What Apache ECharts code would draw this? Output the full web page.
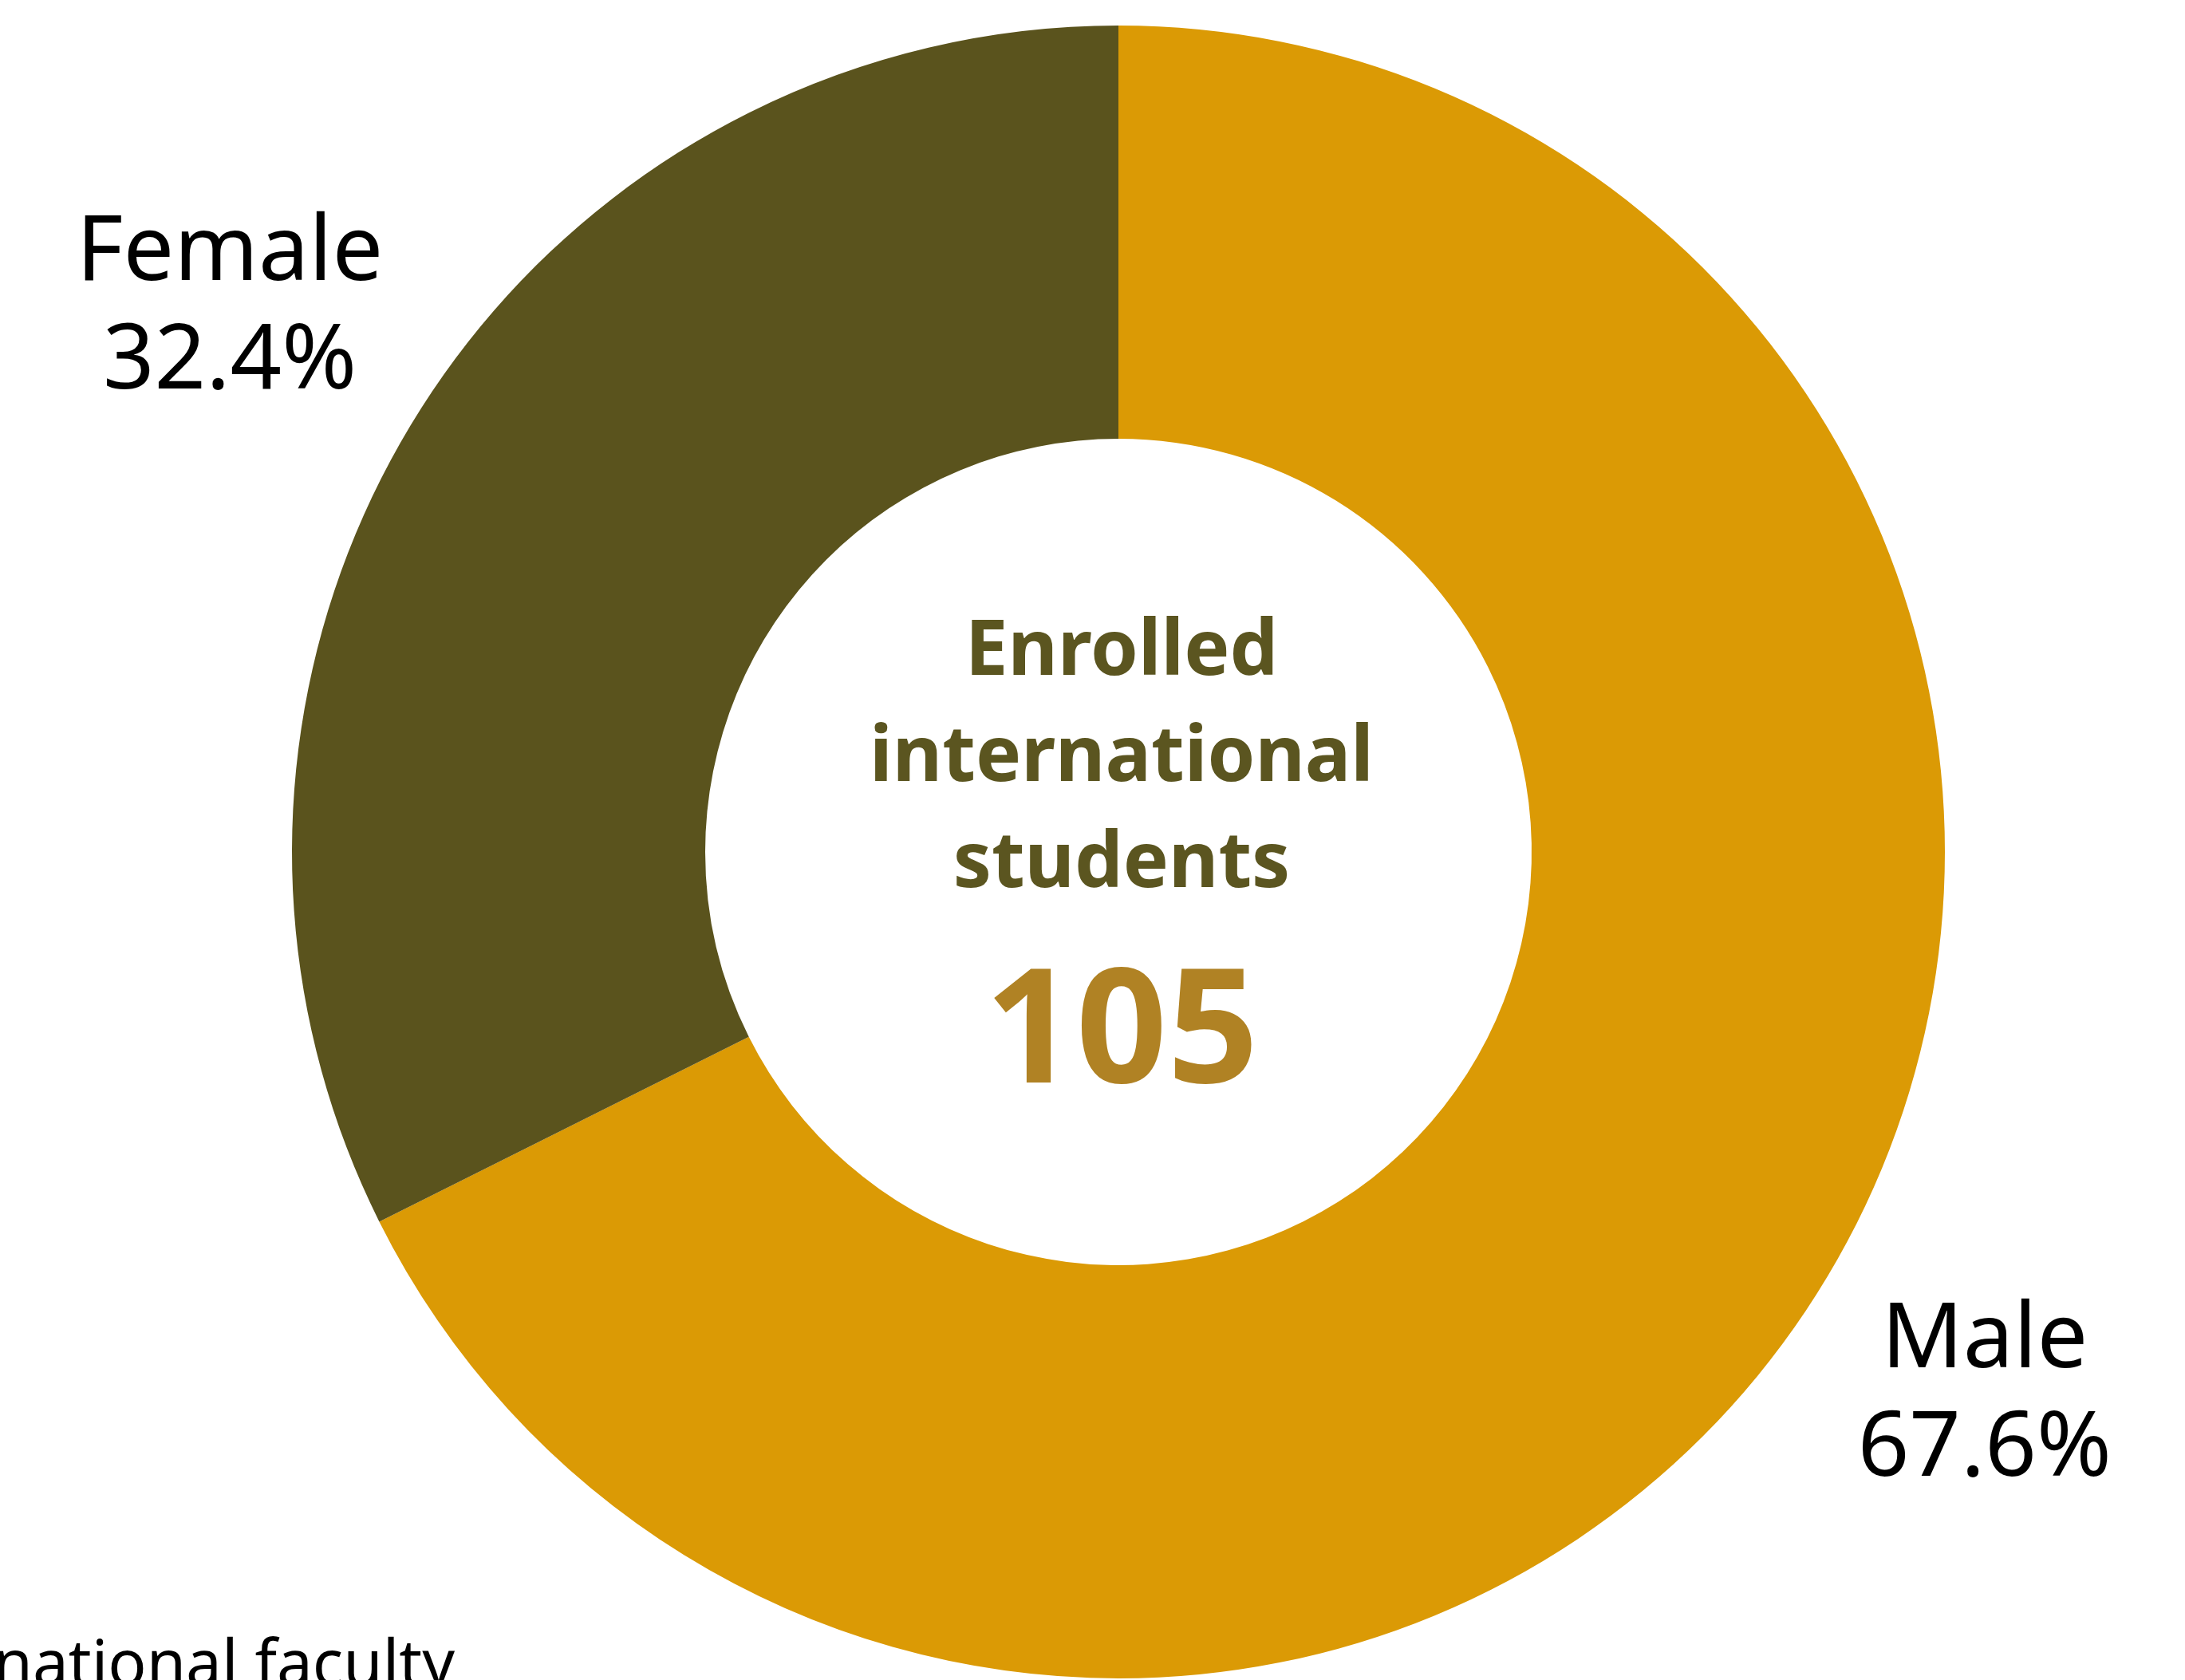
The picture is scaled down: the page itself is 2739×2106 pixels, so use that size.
<!DOCTYPE html>
<html>
<head>
<meta charset="utf-8">
<script src="https://cdn.jsdelivr.net/npm/echarts@6/dist/echarts.min.js"></script>
<style>
html,body{margin:0;padding:0;background:#fff;}
#chart{width:2739px;height:2106px;}
</style>
</head>
<body>
<div id="chart"></div>
<script>
// ---- data ----
const categories = ['Male', 'Female'];
const values = [71, 34];
const sliceColors = ['#DB9A05', '#5A531D'];
const centerLines = ['Enrolled', 'international', 'students'];
const centerTotal = '105';
const footnote = 'International faculty';

// ---- layout ----
const CX = 1402, CY = 1068, R_OUT = 1036, R_IN = 518;
const labelFactor = [1.232, 1.264];
const labelDy = [11, 7];

const total = values.reduce((a, b) => a + b, 0);
function midAngle(i) {
  let before = 0;
  for (let k = 0; k < i; k++) before += values[k];
  const frac = (before + values[i] / 2) / total;
  return (90 - frac * 360) * Math.PI / 180;
}

const chart = echarts.init(document.getElementById('chart'), null, {renderer: 'canvas'});

const centerGraphics = centerLines.map((t, i) => ({
  type: 'text',
  x: CX + 4,
  y: CY - 249 + i * 133,
  style: {
    text: t,
    fill: '#5B5520',
    font: 'bold 96px "Noto Sans"',
    textAlign: 'center',
    textVerticalAlign: 'middle'
  }
}));
centerGraphics.push({
  type: 'text',
  x: CX + 4,
  y: CY + 232,
  style: {
    text: centerTotal,
    fill: '#B08224',
    font: 'bold 200px "Noto Sans"',
    textAlign: 'center',
    textVerticalAlign: 'middle'
  }
});
centerGraphics.push({
  type: 'text',
  x: 570,
  y: 2090,
  style: {
    text: footnote,
    fill: '#000000',
    font: '80px "Noto Sans"',
    textAlign: 'right',
    textVerticalAlign: 'middle'
  }
});

chart.setOption({
  animation: false,
  backgroundColor: '#ffffff',
  series: [{
    type: 'pie',
    center: [CX, CY],
    radius: [R_IN, R_OUT],
    startAngle: 90,
    clockwise: true,
    percentPrecision: 1,
    avoidLabelOverlap: false,
    emphasis: {disabled: true},
    itemStyle: {borderWidth: 0},
    label: {
      show: true,
      position: 'outside',
      formatter: '{b}\n{d}%',
      fontFamily: 'Noto Sans',
      fontSize: 113,
      lineHeight: 136,
      color: '#000000'
    },
    labelLine: {show: false},
    labelLayout: function (p) {
      const i = p.dataIndex;
      const a = midAngle(i);
      const r = R_OUT * labelFactor[i];
      return {
        x: CX + r * Math.cos(a),
        y: CY - r * Math.sin(a) + labelDy[i],
        align: 'center',
        verticalAlign: 'middle'
      };
    },
    data: categories.map((c, i) => ({
      name: c,
      value: values[i],
      itemStyle: {color: sliceColors[i]}
    }))
  }],
  graphic: centerGraphics
});
</script>
</body>
</html>
